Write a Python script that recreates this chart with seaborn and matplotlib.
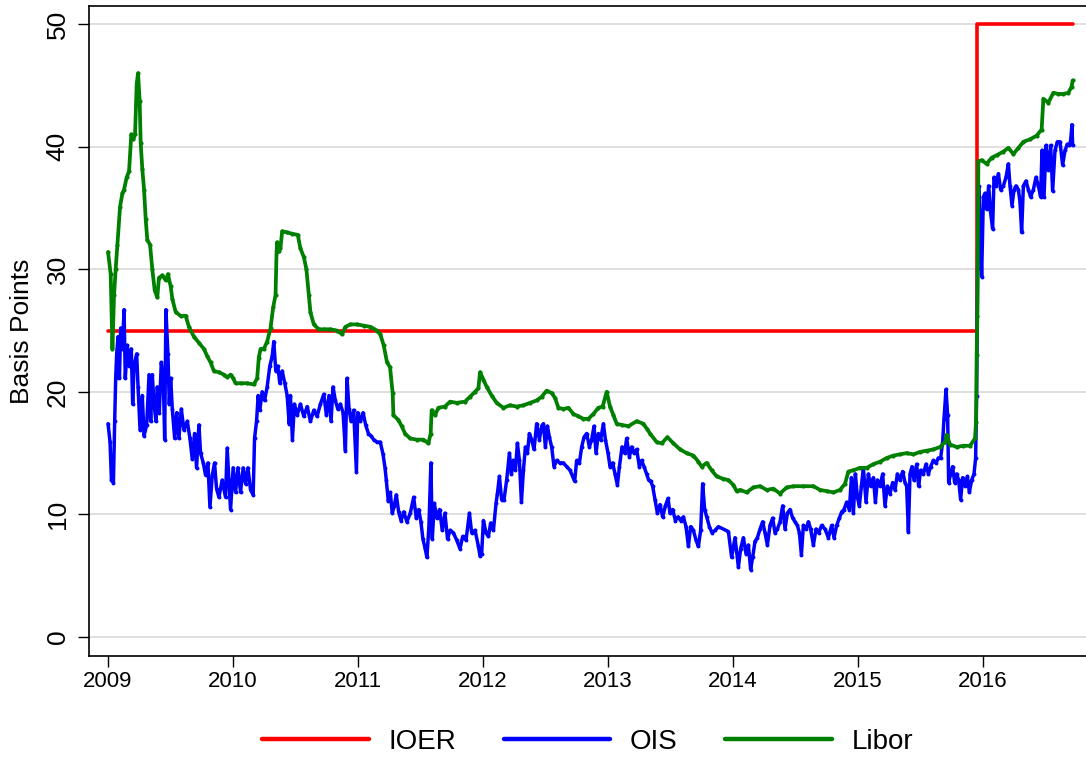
import pandas as pd
import seaborn as sns
import matplotlib.pyplot as plt

# IOER policy rate (basis points), step changes
ioer_t = [2009.0, 2015.955, 2016.72]
ioer_v = [25, 50, 50]

# 3-month Libor (basis points)
libor_t = [2009.000, 2009.021, 2009.035, 2009.048, 2009.061, 2009.075, 2009.096, 2009.115, 2009.128, 2009.149,
           2009.168, 2009.186, 2009.202, 2009.216, 2009.229, 2009.240, 2009.253, 2009.261, 2009.274, 2009.288,
           2009.301, 2009.314, 2009.336, 2009.354, 2009.373, 2009.394, 2009.407, 2009.434, 2009.461, 2009.479,
           2009.501, 2009.514, 2009.541, 2009.581, 2009.621, 2009.647, 2009.687, 2009.727, 2009.767, 2009.794,
           2009.820, 2009.847, 2009.887, 2009.927, 2009.953, 2009.980, 2010.001, 2010.020, 2010.060, 2010.113,
           2010.166, 2010.193, 2010.206, 2010.220, 2010.246, 2010.273, 2010.300, 2010.321, 2010.340, 2010.348,
           2010.353, 2010.366, 2010.379, 2010.393, 2010.433, 2010.473, 2010.518, 2010.539, 2010.566, 2010.587,
           2010.606, 2010.619, 2010.646, 2010.686, 2010.726, 2010.779, 2010.832, 2010.872, 2010.899, 2010.939,
           2010.992, 2011.045, 2011.099, 2011.152, 2011.178, 2011.205, 2011.232,
           2011.256, 2011.277, 2011.283, 2011.323, 2011.349, 2011.376, 2011.416, 2011.469, 2011.523, 2011.563,
           2011.581, 2011.589, 2011.616, 2011.643, 2011.696, 2011.736, 2011.789, 2011.856, 2011.896, 2011.936,
           2011.963, 2011.976, 2012.003, 2012.029, 2012.069, 2012.109, 2012.163, 2012.216, 2012.269, 2012.323,
           2012.376, 2012.429, 2012.469, 2012.509, 2012.549, 2012.576, 2012.603, 2012.643, 2012.683, 2012.723,
           2012.763, 2012.803, 2012.843, 2012.883, 2012.923, 2012.957, 2012.989, 2013.016, 2013.043, 2013.069,
           2013.109, 2013.163, 2013.229, 2013.283, 2013.309, 2013.336, 2013.389, 2013.429, 2013.475, 2013.523,
           2013.576, 2013.629, 2013.683, 2013.723, 2013.749, 2013.789, 2013.829, 2013.869, 2013.923, 2013.963,
           2014.003, 2014.029, 2014.056,
           2014.109, 2014.163, 2014.216, 2014.269, 2014.323, 2014.376, 2014.429, 2014.483, 2014.563, 2014.643,
           2014.696, 2014.749, 2014.803, 2014.856, 2014.896, 2014.923, 2014.963, 2015.016, 2015.069, 2015.123,
           2015.176, 2015.229, 2015.283, 2015.336, 2015.389, 2015.443, 2015.496, 2015.549, 2015.603, 2015.656,
           2015.696, 2015.709, 2015.736, 2015.789, 2015.843, 2015.896, 2015.936, 2015.944, 2015.949, 2015.955,
           2015.963, 2015.989, 2016.029, 2016.069, 2016.109, 2016.163, 2016.203, 2016.243, 2016.283, 2016.323,
           2016.376, 2016.429, 2016.469, 2016.483, 2016.523, 2016.563, 2016.603, 2016.643, 2016.683, 2016.709,
           2016.717]
libor_v = [31.4, 29.6, 23.5, 27.9, 30.0, 32.0, 35.1, 36.2, 36.5, 37.5,
           38.0, 41.0, 40.6, 41.0, 45.1, 46.0, 43.7, 40.3, 38.2, 36.5,
           34.1, 32.4, 32.0, 30.0, 28.3, 27.7, 29.3, 29.5, 29.1, 29.6,
           28.6, 27.6, 26.5, 26.2, 26.2, 25.3, 24.5, 24.0, 23.5, 22.9,
           22.4, 21.7, 21.6, 21.4, 21.2, 21.4, 21.1, 20.7, 20.7, 20.7,
           20.6, 21.1, 22.8, 23.5, 23.5, 24.1, 25.2, 26.9, 27.9, 31.4,
           32.2, 31.5, 31.7, 33.1, 33.0, 32.9, 32.8, 31.7, 31.0, 30.0,
           27.9, 26.5, 25.5, 25.1, 25.1, 25.1, 25.0, 24.7, 25.3, 25.5,
           25.5, 25.4, 25.3, 25.0, 24.7, 23.8, 22.4,
           22.0, 19.9, 18.1, 17.7, 17.2, 16.6, 16.2, 16.1, 16.1, 15.8,
           16.6, 18.5, 18.1, 18.7, 18.8, 19.2, 19.1, 19.2, 19.6, 20.0,
           20.3, 21.6, 21.0, 20.4, 19.7, 19.1, 18.7, 18.9, 18.8, 18.9,
           19.1, 19.3, 19.6, 20.1, 19.9, 19.5, 18.7, 18.6, 18.7, 18.2,
           18.0, 17.8, 17.8, 18.2, 18.7, 18.8, 20.0, 18.8, 18.1, 17.4,
           17.3, 17.2, 17.6, 17.4, 17.0, 16.6, 15.9, 15.8, 16.3, 15.8,
           15.3, 15.0, 14.8, 14.3, 13.9, 14.2, 13.6, 13.1, 12.9, 12.8,
           12.4, 11.9, 12.0,
           11.8, 12.2, 12.3, 12.0, 12.1, 11.7, 12.2, 12.3, 12.3, 12.3,
           12.0, 11.9, 11.8, 12.0, 12.5, 13.5, 13.6, 13.8, 13.8, 14.1,
           14.3, 14.6, 14.8, 14.9, 15.0, 14.9, 15.1, 15.2, 15.3, 15.5,
           15.9, 16.5, 15.7, 15.5, 15.6, 15.6, 16.2, 17.5, 23.0, 26.2,
           38.8, 38.9, 38.6, 39.1, 39.3, 39.6, 39.9, 39.4, 39.9, 40.4,
           40.6, 40.9, 41.4, 43.9, 43.6, 44.4, 44.3, 44.3, 44.4, 44.9,
           45.4]

# 3-month OIS (basis points)
ois_t = [2009.000, 2009.016, 2009.027, 2009.043, 2009.053, 2009.061, 2009.069, 2009.080, 2009.091, 2009.101,
         2009.115, 2009.128, 2009.138, 2009.154, 2009.168, 2009.186, 2009.197, 2009.208, 2009.229, 2009.240,
         2009.256, 2009.274, 2009.288, 2009.309, 2009.328, 2009.341, 2009.354, 2009.368, 2009.383, 2009.394,
         2009.410, 2009.426, 2009.442, 2009.453, 2009.463, 2009.479, 2009.490, 2009.501, 2009.514, 2009.533,
         2009.549, 2009.567, 2009.586, 2009.607, 2009.634, 2009.655, 2009.674, 2009.692, 2009.708, 2009.727,
         2009.740, 2009.762, 2009.780, 2009.799, 2009.815, 2009.834, 2009.852, 2009.868, 2009.887, 2009.913,
         2009.940, 2009.953, 2009.967, 2009.980, 2010.001, 2010.020, 2010.039, 2010.060, 2010.081, 2010.100,
         2010.119, 2010.140, 2010.161, 2010.172, 2010.188, 2010.201, 2010.214, 2010.233, 2010.252, 2010.273,
         2010.294, 2010.313, 2010.326, 2010.342, 2010.358, 2010.374, 2010.393, 2010.414, 2010.433, 2010.449,
         2010.459, 2010.475, 2010.491, 2010.513, 2010.539, 2010.566, 2010.593, 2010.619, 2010.646, 2010.672,
         2010.699, 2010.726, 2010.747, 2010.768, 2010.784, 2010.800, 2010.818, 2010.838, 2010.859, 2010.880,
         2010.899, 2010.912, 2010.928, 2010.944, 2010.965, 2010.987, 2010.997, 2011.019, 2011.040, 2011.061,
         2011.083, 2011.104, 2011.125, 2011.152, 2011.178, 2011.200, 2011.216, 2011.226, 2011.242, 2011.258,
         2011.274, 2011.290, 2011.306, 2011.325, 2011.344, 2011.365, 2011.391, 2011.418, 2011.445, 2011.466,
         2011.485, 2011.503, 2011.519, 2011.535, 2011.551, 2011.567, 2011.583, 2011.594, 2011.610, 2011.631,
         2011.652, 2011.674, 2011.695, 2011.716,
         2011.736, 2011.763, 2011.789, 2011.816, 2011.837, 2011.864, 2011.891, 2011.909, 2011.936, 2011.963,
         2011.976, 2011.989, 2012.003, 2012.024, 2012.043, 2012.061, 2012.083, 2012.104, 2012.115, 2012.131,
         2012.149, 2012.168, 2012.189, 2012.211, 2012.227, 2012.243, 2012.259, 2012.275, 2012.291, 2012.307,
         2012.323, 2012.339, 2012.355, 2012.371, 2012.389, 2012.408, 2012.429, 2012.451, 2012.469, 2012.483,
         2012.499, 2012.515, 2012.531, 2012.549, 2012.568, 2012.589, 2012.616, 2012.643, 2012.669, 2012.696,
         2012.717, 2012.733, 2012.749, 2012.771, 2012.789, 2012.808, 2012.829, 2012.851, 2012.869, 2012.888,
         2012.904, 2012.923, 2012.941, 2012.963, 2012.979, 2013.000, 2013.016, 2013.037, 2013.056, 2013.075,
         2013.091, 2013.112, 2013.133, 2013.149, 2013.171, 2013.189, 2013.208, 2013.229, 2013.251, 2013.269,
         2013.288, 2013.309, 2013.325, 2013.341, 2013.357, 2013.376, 2013.395, 2013.416, 2013.437, 2013.459,
         2013.480, 2013.496, 2013.517, 2013.539, 2013.560, 2013.581, 2013.603, 2013.624, 2013.643, 2013.661,
         2013.683, 2013.704, 2013.723, 2013.741, 2013.757, 2013.773, 2013.789, 2013.811, 2013.832, 2013.856,
         2013.883,
         2013.963, 2013.989, 2014.016, 2014.043, 2014.061, 2014.083, 2014.104, 2014.123, 2014.141, 2014.157,
         2014.176, 2014.195, 2014.216, 2014.237, 2014.256, 2014.275, 2014.296, 2014.317, 2014.336, 2014.355,
         2014.376, 2014.397, 2014.416, 2014.435, 2014.456, 2014.477, 2014.496, 2014.515, 2014.531, 2014.547,
         2014.563, 2014.584, 2014.603, 2014.621, 2014.643, 2014.664, 2014.685, 2014.709, 2014.736, 2014.763,
         2014.789, 2014.808, 2014.829, 2014.851, 2014.869, 2014.888, 2014.909, 2014.931, 2014.947, 2014.963,
         2014.979, 2014.995, 2015.011, 2015.027, 2015.043, 2015.064, 2015.083, 2015.101, 2015.123, 2015.139,
         2015.155, 2015.176, 2015.197, 2015.216, 2015.235, 2015.256, 2015.277, 2015.296, 2015.315, 2015.336,
         2015.357, 2015.376, 2015.389, 2015.403, 2015.416, 2015.432, 2015.448, 2015.469, 2015.485, 2015.501,
         2015.523, 2015.544, 2015.563, 2015.581, 2015.603, 2015.624, 2015.643, 2015.661, 2015.677, 2015.688,
         2015.704, 2015.717, 2015.725, 2015.741, 2015.757, 2015.773, 2015.789, 2015.805, 2015.821, 2015.837,
         2015.856, 2015.875, 2015.891, 2015.909, 2015.928, 2015.941, 2015.949, 2015.957, 2015.965, 2015.976,
         2015.989, 2016.003, 2016.016, 2016.029, 2016.045, 2016.061, 2016.077, 2016.088, 2016.104, 2016.123,
         2016.141, 2016.163, 2016.184, 2016.203, 2016.216, 2016.232, 2016.248, 2016.264, 2016.283, 2016.296,
         2016.309, 2016.323, 2016.344, 2016.363, 2016.381, 2016.403, 2016.424, 2016.443, 2016.461, 2016.472,
         2016.488, 2016.504, 2016.523, 2016.541, 2016.557, 2016.576, 2016.595, 2016.616, 2016.637, 2016.656,
         2016.675, 2016.691, 2016.701, 2016.712, 2016.717]
ois_v = [17.4, 15.9, 12.8, 12.6, 17.6, 21.1, 23.1, 24.5, 21.1, 25.2,
         23.5, 26.7, 21.1, 23.8, 22.1, 23.5, 19.0, 22.1, 23.1, 20.4,
         16.9, 19.7, 16.4, 17.3, 21.4, 17.6, 21.4, 19.0, 17.6, 20.4,
         18.3, 22.4, 21.1, 16.1, 26.7, 23.1, 19.0, 21.1, 18.6, 16.2,
         18.3, 16.2, 18.6, 16.9, 17.6, 16.2, 14.5, 16.6, 13.8, 17.3,
         15.0, 14.2, 13.2, 14.2, 10.6, 13.2, 14.2, 12.1, 11.4, 12.8,
         11.4, 15.4, 12.8, 10.4, 13.8, 11.8, 13.8, 11.8, 13.8, 12.5,
         13.8, 12.0, 11.6, 16.2, 17.6, 19.7, 18.5, 20.0, 19.3, 20.4,
         22.1, 22.9, 24.1, 21.7, 22.1, 20.7, 21.7, 20.7, 19.7, 17.4,
         19.7, 16.1, 19.0, 18.1, 19.0, 18.0, 18.8, 17.6, 18.5, 18.0,
         19.0, 19.8, 18.1, 19.7, 17.6, 20.4, 19.3, 18.6, 19.0, 18.3,
         15.2, 21.1, 18.6, 17.6, 18.5, 13.5, 18.3, 17.6, 18.3, 17.3,
         16.6, 16.4, 16.1, 15.9, 15.9, 14.9, 13.8, 12.8, 11.1, 11.8,
         10.1, 10.7, 11.6, 10.2, 9.5, 10.2, 9.4, 10.1, 11.4, 9.7,
         10.4, 9.4, 8.0, 7.3, 6.5, 9.0, 14.2, 8.0, 10.9, 9.7,
         10.4, 8.7, 10.1, 8.0,
         8.7, 8.5, 7.9, 7.2, 8.2, 7.9, 10.1, 8.5, 8.7, 7.4,
         6.6, 6.8, 9.5, 8.5, 8.2, 9.3, 8.7, 10.9, 11.7, 13.1,
         11.2, 11.2, 12.8, 15.0, 13.3, 14.4, 13.6, 15.8, 14.4, 11.0,
         13.6, 15.5, 15.0, 16.6, 16.1, 15.3, 17.4, 16.1, 17.2, 17.4,
         15.5, 17.2, 16.3, 15.5, 13.9, 14.4, 14.2, 14.2, 13.9, 13.6,
         13.1, 12.7, 14.4, 14.2, 15.5, 16.3, 16.6, 15.5, 16.1, 17.2,
         15.0, 16.6, 16.1, 17.4, 16.1, 15.0, 13.9, 14.2, 13.3, 12.4,
         13.9, 15.5, 15.0, 16.2, 14.7, 15.5, 15.0, 15.3, 13.9, 14.4,
         13.9, 13.3, 12.8, 12.7, 12.3, 11.2, 10.1, 10.8, 9.8, 10.7,
         11.3, 10.1, 10.4, 9.5, 9.8, 9.5, 9.8, 9.0, 7.4, 9.0,
         8.7, 7.9, 7.4, 8.7, 12.5, 10.4, 9.8, 9.0, 8.5, 8.7,
         9.0,
         8.6, 6.5, 8.1, 5.7, 7.2, 8.1, 6.8, 7.5, 5.5, 6.5,
         7.8, 8.1, 8.8, 9.4, 8.5, 7.5, 9.1, 9.7, 8.5, 8.8,
         9.4, 10.7, 8.8, 10.1, 10.4, 9.7, 9.4, 9.1, 8.5, 6.7,
         9.1, 8.8, 9.4, 8.8, 7.5, 8.8, 8.5, 9.1, 8.8, 8.1,
         9.1, 8.1, 9.1, 9.7, 10.2, 10.4, 11.0, 10.4, 13.0, 10.1,
         13.3, 11.4, 10.7, 12.3, 13.8, 11.0, 13.3, 12.3, 13.0, 11.0,
         12.8, 12.3, 13.3, 10.7, 12.3, 11.7, 12.6, 12.0, 13.3, 12.8,
         13.5, 12.6, 12.3, 8.6, 13.3, 13.9, 12.8, 14.1, 12.3, 13.6,
         13.3, 14.1, 13.3, 13.9, 14.4, 14.2, 14.6, 14.6, 15.9, 17.8,
         20.2, 18.1, 12.6, 13.3, 13.9, 12.6, 13.3, 12.8, 11.2, 13.0,
         12.3, 13.1, 11.8, 12.8, 13.3, 14.6, 19.7, 30.1, 36.8, 33.9,
         29.4, 35.9, 36.2, 34.9, 36.8, 34.6, 33.3, 37.5, 36.8, 37.8,
         36.5, 36.8, 37.5, 38.6, 36.8, 35.2, 36.5, 36.8, 36.5, 35.5,
         33.0, 36.8, 37.2, 36.5, 35.9, 36.5, 37.5, 36.8, 35.9, 39.7,
         35.9, 40.1, 38.1, 40.1, 36.4, 39.7, 40.4, 40.4, 38.5, 39.7,
         40.2, 40.1, 40.5, 41.8, 40.1]

colors = {"IOER": "red", "OIS": "blue", "Libor": "green"}

ioer = pd.DataFrame({"date": ioer_t, "bp": ioer_v})
ois = pd.DataFrame({"date": ois_t, "bp": ois_v})
libor = pd.DataFrame({"date": libor_t, "bp": libor_v})

sns.set_style("white")
plt.rcParams["font.family"] = ["Liberation Sans", "DejaVu Sans"]
plt.rcParams["text.color"] = "black"
plt.rcParams["axes.labelcolor"] = "black"
plt.rcParams["xtick.color"] = "black"
plt.rcParams["ytick.color"] = "black"

fig = plt.figure(figsize=(10.86, 7.61), dpi=100)
ax = fig.add_axes([0.082, 0.138, 0.918, 0.854])

# Stata-like "connected" lines: thick line with tiny markers
sns.lineplot(data=ioer, x="date", y="bp", ax=ax, color=colors["IOER"], lw=2.6,
             drawstyle="steps-post", estimator=None, sort=False, label="IOER")
sns.lineplot(data=ois, x="date", y="bp", ax=ax, color=colors["OIS"], lw=2.5,
             marker="o", markersize=2.8, markeredgewidth=0,
             estimator=None, sort=False, label="OIS")
sns.lineplot(data=libor, x="date", y="bp", ax=ax, color=colors["Libor"], lw=2.7,
             marker="o", markersize=3.0, markeredgewidth=0,
             estimator=None, sort=False, label="Libor")

ax.set_xlim(2008.848, 2016.824)
ax.set_ylim(-1.55, 51.47)
ax.set_xticks(range(2009, 2017))
ax.set_xticklabels([str(y) for y in range(2009, 2017)])
ax.set_yticks(range(0, 51, 10))
ax.yaxis.grid(True, color="#dcdcdc", lw=1.3)
ax.xaxis.grid(False)
ax.set_axisbelow(True)

for side in ["left", "bottom", "top"]:
    ax.spines[side].set_visible(True)
    ax.spines[side].set_color("black")
    ax.spines[side].set_linewidth(1.2)
ax.spines["right"].set_visible(False)

ax.tick_params(axis="y", direction="out", length=8, width=1, labelsize=19, pad=6, left=True)
ax.tick_params(axis="x", direction="out", length=8, width=1, labelsize=16, pad=3, bottom=True)
plt.setp(ax.get_yticklabels(), rotation=90, va="center")

ax.set_xlabel("")
ax.set_ylabel("Basis Points", fontsize=19, labelpad=8)

ax.get_legend().remove()
handles, labels = ax.get_legend_handles_labels()
leg = fig.legend(handles, labels, loc="center", bbox_to_anchor=(0.541, 0.025), ncol=3,
                 frameon=False, fontsize=20, handlelength=3.85, handletextpad=0.7,
                 columnspacing=1.7)
for line in leg.get_lines():
    line.set_linewidth(3.2)
    line.set_marker("")

fig.savefig("out.png", dpi=100)
